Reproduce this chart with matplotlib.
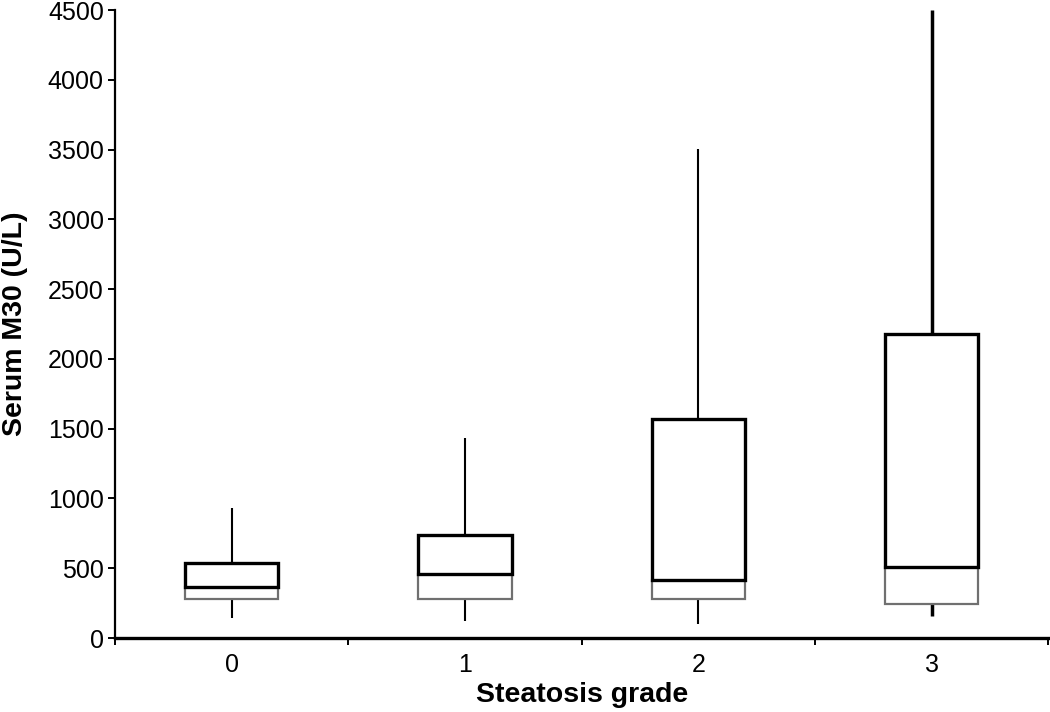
import matplotlib.pyplot as plt
import numpy as np

plt.rcParams['font.family'] = ['Liberation Sans', 'DejaVu Sans']

# Box plot statistics (U/L)
grades = ['0', '1', '2', '3']
whisker_low = [143, 122, 100, 158]
q1 = [279, 279, 279, 244]
median = [365, 458, 415, 509]
q3 = [537, 738, 1569, 2178]
whisker_high = [931, 1433, 3503, 4500]
whisker_lw = [1.5, 1.5, 1.5, 2.5]

fig = plt.figure(figsize=(10.5, 7.12), dpi=100)
ax = fig.add_axes([0.1095, 0.1039, 0.889, 0.882])

x = np.arange(len(grades))
width = 0.4

# whiskers
for i in range(len(grades)):
    ax.vlines(x[i], q3[i], whisker_high[i], color='black', lw=whisker_lw[i], zorder=1)
    ax.vlines(x[i], whisker_low[i], q1[i], color='black', lw=whisker_lw[i], zorder=1)

# lower part of the box (Q1 to median), thin grey outline
ax.bar(x, np.array(median) - np.array(q1), width, bottom=q1,
       facecolor='white', edgecolor='#707070', lw=1.6, zorder=2)
# upper part of the box (median to Q3), thick black outline
ax.bar(x, np.array(q3) - np.array(median), width, bottom=median,
       facecolor='white', edgecolor='black', lw=2.4, zorder=3)

ax.set_xlim(-0.5, 3.5)
ax.set_ylim(0, 4500)
ax.set_yticks(np.arange(0, 4501, 500))
ax.set_xticks(x)
ax.set_xticklabels(grades)
ax.set_xticks(np.arange(-0.5, 3.6, 1.0), minor=True)

for side in ['top', 'right']:
    ax.spines[side].set_visible(False)
ax.spines['left'].set_linewidth(1.6)
ax.spines['bottom'].set_linewidth(2.4)

ax.tick_params(axis='x', which='major', length=0, labelsize=18, pad=11)
ax.tick_params(axis='x', which='minor', length=5, width=1.4, direction='out')
ax.tick_params(axis='y', length=5, width=1.4, direction='out', labelsize=18, pad=3)

ax.set_xlabel('Steatosis grade', fontsize=20.5, fontweight='bold')
ax.set_ylabel('Serum M30 (U/L)', fontsize=20.5, fontweight='bold')
ax.xaxis.set_label_coords(0.5, -0.070)
ax.yaxis.set_label_coords(-0.093, 0.5)

fig.savefig('out.png', dpi=100)
